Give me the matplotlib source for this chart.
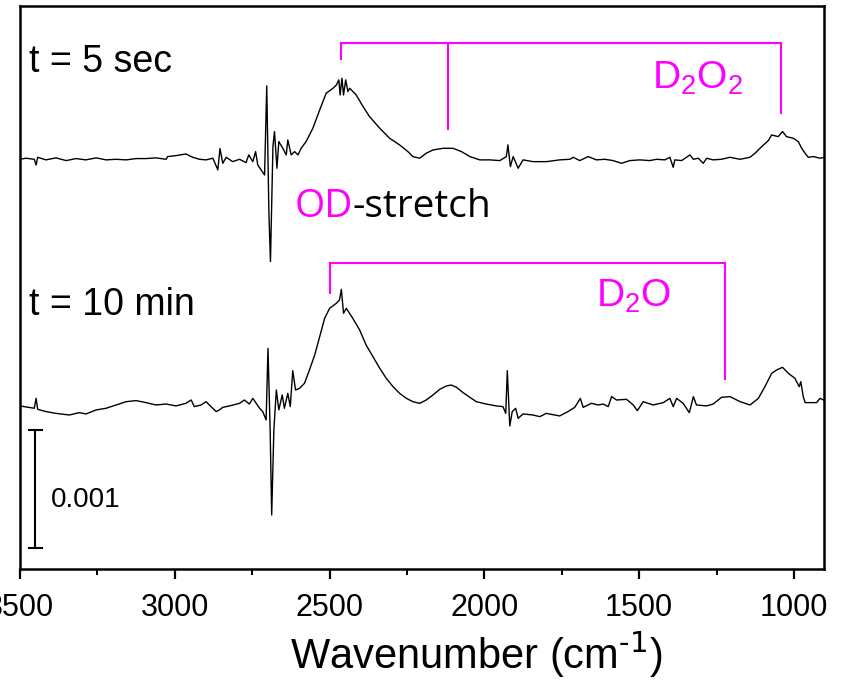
import matplotlib
matplotlib.use("Agg")
import matplotlib.pyplot as plt
from matplotlib import font_manager
from matplotlib.ticker import MultipleLocator
import numpy as np

# difference spectra, absorbance in units of 0.001
top_wn = [3500, 3481, 3454, 3448, 3443, 3416, 3384, 3351, 3319, 3287, 3254, 3222,
          3190, 3157, 3125, 3093, 3061, 3028, 3023, 2996, 2964, 2942, 2920, 2899,
          2877, 2861, 2854, 2845, 2834, 2813, 2791, 2770, 2761, 2748, 2739, 2732,
          2721, 2710, 2703, 2696, 2691, 2683, 2678, 2670, 2664, 2651, 2640, 2635,
          2624, 2613, 2602, 2592, 2576, 2554, 2532, 2511, 2489, 2478, 2470, 2466,
          2460, 2455, 2448, 2441, 2435, 2414, 2392, 2371, 2338, 2306, 2274, 2247,
          2231, 2209, 2188, 2166, 2134, 2101, 2074, 2047, 2015, 1983, 1950, 1929,
          1924, 1916, 1907, 1891, 1875, 1843, 1800, 1757, 1724, 1713, 1692, 1665,
          1638, 1611, 1584, 1557, 1530, 1498, 1466, 1444, 1417, 1401, 1390, 1385,
          1363, 1336, 1325, 1309, 1293, 1282, 1261, 1234, 1207, 1174, 1142, 1126,
          1104, 1083, 1072, 1051, 1037, 1024, 1002, 986, 975, 964, 954, 937, 916, 900]
top_abs = [-0.020, -0.011, -0.020, -0.068, -0.003, -0.025, -0.008, -0.031, -0.014, -0.025,
           -0.008, -0.025, -0.020, -0.025, -0.014, -0.014, -0.008, -0.020, 0.003, 0.011,
           0.025, -0.003, -0.020, -0.025, -0.011, -0.110, 0.071, -0.054, -0.003, -0.040,
           -0.020, -0.048, 0.017, -0.040, 0.045, -0.068, -0.110, -0.153, 0.602, -0.477,
           -0.887, 0.088, 0.215, -0.096, 0.130, 0.073, 0.017, 0.144, 0.017, 0.045,
           0.017, 0.073, 0.130, 0.243, 0.398, 0.540, 0.582, 0.610, 0.653, 0.525,
           0.667, 0.525, 0.653, 0.554, 0.582, 0.525, 0.427, 0.342, 0.243, 0.158,
           0.102, 0.045, 0.003, -0.011, 0.031, 0.059, 0.073, 0.073, 0.045, 0.003,
           -0.025, -0.025, -0.031, 0.003, 0.102, -0.082, 0.003, -0.096, -0.025, -0.040,
           -0.040, -0.025, -0.020, -0.003, -0.031, 0.003, -0.025, -0.020, -0.031, -0.054,
           -0.031, -0.025, -0.031, -0.020, -0.025, -0.003, -0.088, -0.025, -0.031, 0.017,
           -0.020, -0.011, -0.054, -0.011, -0.025, -0.020, -0.003, -0.020, -0.003, 0.031,
           0.088, 0.138, 0.186, 0.172, 0.215, 0.172, 0.158, 0.130, 0.073, 0.031,
           -0.003, 0.003, -0.011, -0.003]

bot_wn = [3500, 3454, 3448, 3443, 3416, 3384, 3341, 3308, 3287, 3254, 3222, 3190,
          3157, 3125, 3093, 3061, 3028, 2996, 2964, 2947, 2937, 2915, 2899, 2883,
          2866, 2856, 2845, 2823, 2791, 2775, 2759, 2748, 2737, 2726, 2716, 2705,
          2699, 2692, 2687, 2680, 2672, 2664, 2653, 2646, 2635, 2627, 2619, 2610,
          2597, 2581, 2565, 2548, 2532, 2516, 2500, 2478, 2468, 2462, 2455, 2446,
          2425, 2403, 2382, 2360, 2338, 2317, 2295, 2274, 2252, 2231, 2209, 2188,
          2166, 2144, 2123, 2107, 2090, 2069, 2047, 2026, 1994, 1961, 1940, 1931,
          1926, 1918, 1910, 1899, 1891, 1875, 1843, 1821, 1800, 1757, 1730, 1708,
          1690, 1681, 1654, 1633, 1616, 1600, 1589, 1573, 1541, 1519, 1506, 1487,
          1455, 1422, 1401, 1390, 1379, 1358, 1338, 1325, 1315, 1282, 1261, 1234,
          1207, 1174, 1142, 1115, 1094, 1072, 1056, 1037, 1018, 997, 983, 978,
          970, 964, 948, 927, 916, 900]
bot_abs = [-0.008, -0.028, 0.056, -0.037, -0.056, -0.071, -0.085, -0.065, -0.076, -0.042,
           -0.028, 0.000, 0.028, 0.037, 0.020, 0.000, 0.008, -0.008, 0.014, 0.042,
           -0.014, 0.000, 0.028, -0.014, -0.056, -0.042, -0.020, -0.008, 0.014, 0.042,
           0.008, 0.056, 0.014, -0.028, -0.056, -0.127, 0.480, -0.212, -0.932, -0.212,
           0.127, -0.042, 0.085, -0.028, 0.099, -0.014, 0.291, 0.127, 0.141, 0.184,
           0.297, 0.424, 0.579, 0.734, 0.819, 0.862, 0.890, 0.980, 0.777, 0.819,
           0.734, 0.636, 0.508, 0.410, 0.311, 0.226, 0.155, 0.099, 0.056, 0.028,
           0.014, 0.042, 0.085, 0.133, 0.161, 0.169, 0.150, 0.105, 0.065, 0.028,
           0.008, -0.008, -0.014, -0.071, 0.291, -0.178, -0.056, -0.028, -0.113, -0.076,
           -0.085, -0.099, -0.071, -0.093, -0.056, -0.020, 0.056, -0.020, 0.014, 0.000,
           0.008, -0.014, 0.071, 0.042, 0.048, 0.000, -0.048, 0.028, 0.000, 0.020,
           0.056, -0.014, 0.056, 0.014, -0.065, 0.071, 0.000, -0.008, 0.008, 0.065,
           0.071, 0.028, 0.000, 0.056, 0.155, 0.268, 0.297, 0.319, 0.268, 0.226,
           0.155, 0.198, 0.071, 0.020, 0.020, 0.020, 0.056, 0.037]

labels = ["t = 5 sec", "t = 10 min"]
offsets = [3.492e-3, 1.390e-3]

# peak markers (wavenumbers)
d2o2_peaks = [2462, 2118, 1042]
d2o_peaks = [2498, 1223]

MAGENTA = "#ff00ff"

names = {f.name for f in font_manager.fontManager.ttflist}
narrow = "Liberation Sans Narrow" if "Liberation Sans Narrow" in names else "Liberation Sans"
plt.rcParams["font.family"] = ["Liberation Sans", "DejaVu Sans"]
plt.rcParams["mathtext.default"] = "regular"

fig = plt.figure(figsize=(8.56, 6.81), dpi=100)
ax = fig.add_axes([20 / 856, 112 / 681, 804 / 856, 563 / 681])

ax.plot(top_wn, np.array(top_abs) * 1e-3 + offsets[0], color="black", lw=1.0)
ax.plot(bot_wn, np.array(bot_abs) * 1e-3 + offsets[1], color="black", lw=1.0)

ax.set_xlim(3500, 903)
ax.set_ylim(0, 4.771e-3)
ax.set_yticks([])
ax.set_xticks([3500, 3000, 2500, 2000, 1500, 1000])
ax.xaxis.set_minor_locator(MultipleLocator(250))
ax.tick_params(axis="x", which="major", direction="out", length=7.5, width=1.6,
               labelsize=22, pad=10)
ax.tick_params(axis="x", which="minor", direction="out", length=4, width=1.4)
for lbl in ax.get_xticklabels():
    lbl.set_family(narrow)
for sp in ax.spines.values():
    sp.set_linewidth(1.8)

ax.set_xlabel(r"Wavenumber (cm$^{\text{-1}}$)", fontsize=30, family=narrow, labelpad=4)
ax.xaxis.label.set_x(0.567)

# trace labels
ax.text(3470, 4.212e-3, labels[0], fontsize=27, va="baseline", ha="left")
ax.text(3470, 2.153e-3, labels[1], fontsize=27, va="baseline", ha="left")

# D2O2 bracket
y_top = 4.455e-3
ax.plot([d2o2_peaks[0], d2o2_peaks[2]], [y_top, y_top], color=MAGENTA, lw=1.5)
for wn, y_end in zip(d2o2_peaks, [4.320e-3, 3.726e-3, 3.862e-3]):
    ax.plot([wn, wn], [y_top, y_end], color=MAGENTA, lw=1.5)
ax.text(1459, 4.074e-3, "D$_2$O$_2$", fontsize=28, color=MAGENTA, va="baseline")

# D2O bracket
y_bot = 2.596e-3
ax.plot([d2o_peaks[0], d2o_peaks[1]], [y_bot, y_bot], color=MAGENTA, lw=1.5)
for wn, y_end in zip(d2o_peaks, [2.336e-3, 1.608e-3]):
    ax.plot([wn, wn], [y_bot, y_end], color=MAGENTA, lw=1.5)
ax.text(1638, 2.223e-3, "D$_2$O", fontsize=28, color=MAGENTA, va="baseline")

od = ax.text(2613, 2.986e-3, "OD", fontsize=28, family="Open Sans", color=MAGENTA,
             va="baseline")
ax.annotate("-stretch", xy=(1, 0), xycoords=od, fontsize=28, family="Open Sans",
            color="black", va="bottom", ha="left")

# scale bar
bar_x = 3451
bar_lo, bar_hi = 0.18e-3, 1.18e-3
ax.plot([bar_x, bar_x], [bar_lo, bar_hi], color="black", lw=1.5)
for yb in (bar_lo, bar_hi):
    ax.plot([bar_x - 21, bar_x + 21], [yb, yb], color="black", lw=1.5)
ax.text(3400, 0.528e-3, "0.001", fontsize=20, family=narrow, va="baseline", ha="left")

fig.savefig("out.png", dpi=100)
